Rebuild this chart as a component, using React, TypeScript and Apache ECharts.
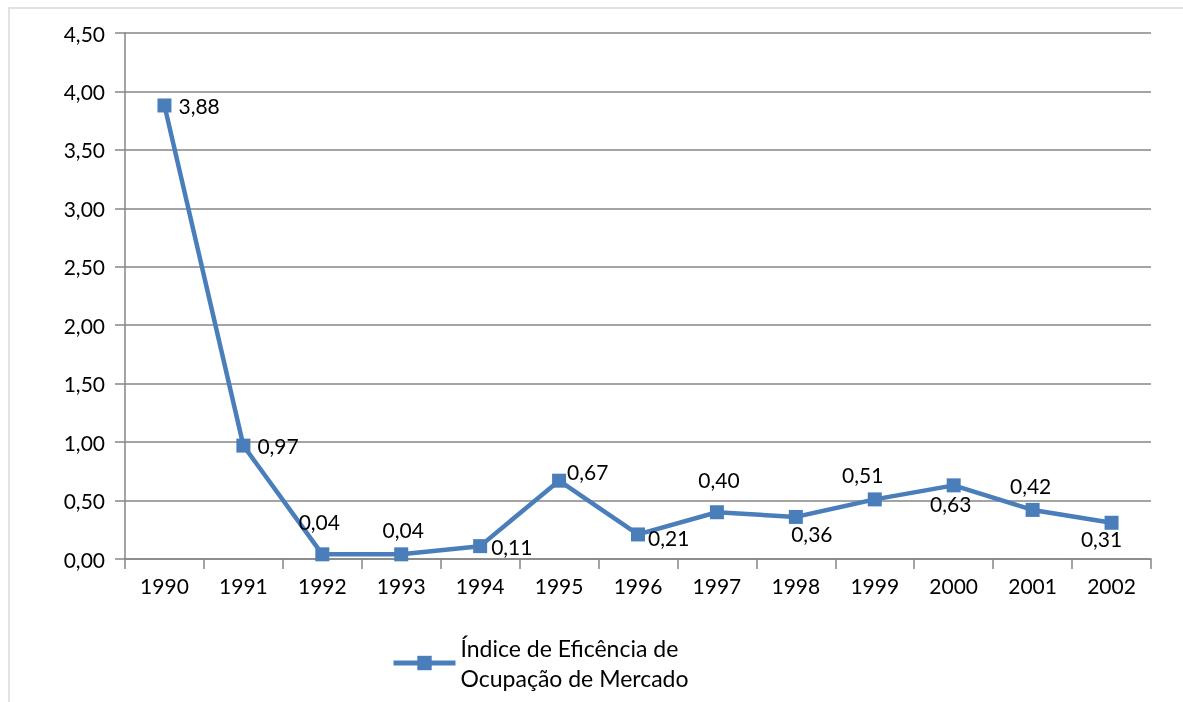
import React, { useEffect, useRef } from "react";
import * as echarts from "echarts";

const years = ["1990","1991","1992","1993","1994","1995","1996","1997","1998","1999","2000","2001","2002"];
const values = [3.88, 0.97, 0.04, 0.04, 0.11, 0.67, 0.21, 0.40, 0.36, 0.51, 0.63, 0.42, 0.31];
const seriesName = "Índice de Eficência de\nOcupação de Mercado";
// label placement per point: [position, dx, dy]
const labelPlaces: [string, number, number][] = [
  ["right", 0, 0], ["right", 0, 0], ["top", -3, -8], ["top", 2, 0], ["right", -3, 0],
  ["right", -6, -9], ["right", -4, 3], ["top", 2, -8], ["bottom", 16, -8], ["top", -12, 0],
  ["bottom", -3, -6], ["top", -2, 0], ["bottom", -10, -9],
];

const fmt = (v: number) => v.toFixed(2).replace(".", ",");
const FONT = "Lato";

export default function App() {
  const ref = useRef<HTMLDivElement>(null);
  useEffect(() => {
    const chart = echarts.init(ref.current!, null, { renderer: "svg" });
    chart.setOption({
      animation: false,
      textStyle: { fontFamily: FONT },
      graphic: [
        { type: "rect", shape: { x: 9, y: 8, width: 1200, height: 720 }, style: { fill: "none", stroke: "#d9d9d9", lineWidth: 1.5 } },
      ],
      grid: { left: 125, right: 32, top: 33, bottom: 143 },
      xAxis: {
        type: "category",
        data: years,
        boundaryGap: true,
        axisLine: { lineStyle: { color: "#868686", width: 1.5 } },
        axisTick: { show: true, length: 10, lineStyle: { color: "#868686", width: 1.5 } },
        axisLabel: { color: "#000", fontSize: 21, fontFamily: FONT, margin: 16 },
      },
      yAxis: {
        type: "value",
        min: 0,
        max: 4.5,
        interval: 0.5,
        axisLine: { show: true, lineStyle: { color: "#868686", width: 1.5 } },
        axisTick: { show: true, length: 10, inside: false, lineStyle: { color: "#868686", width: 1.5 } },
        axisLabel: { color: "#000", fontSize: 21, fontFamily: FONT, margin: 20, formatter: (v: number) => fmt(v) },
        splitLine: { lineStyle: { color: "#868686", width: 1.5 } },
      },
      legend: {
        left: 386,
        top: 628,
        itemWidth: 62,
        itemHeight: 18,
        itemGap: 10,
        lineStyle: { width: 5 },
        textStyle: { fontSize: 23, color: "#000", fontFamily: FONT, lineHeight: 30 },
        data: [seriesName],
      },
      series: [
        {
          name: seriesName,
          type: "line",
          data: values.map((v, i) => ({
            value: v,
            label: {
              position: labelPlaces[i][0],
              offset: [labelPlaces[i][1], labelPlaces[i][2]],
            },
          })),
          symbol: "rect",
          symbolSize: 14,
          lineStyle: { color: "#4a7ebb", width: 4.5 },
          itemStyle: { color: "#4a7ebb" },
          label: {
            show: true,
            fontSize: 21,
            color: "#000",
            fontFamily: FONT,
            distance: 7,
            formatter: (p: any) => fmt(p.value),
          },
        },
      ],
    });
    return () => chart.dispose();
  }, []);
  return <div ref={ref} style={{ position: "fixed", left: 0, top: 0, width: 1183, height: 702 }} />;
}
